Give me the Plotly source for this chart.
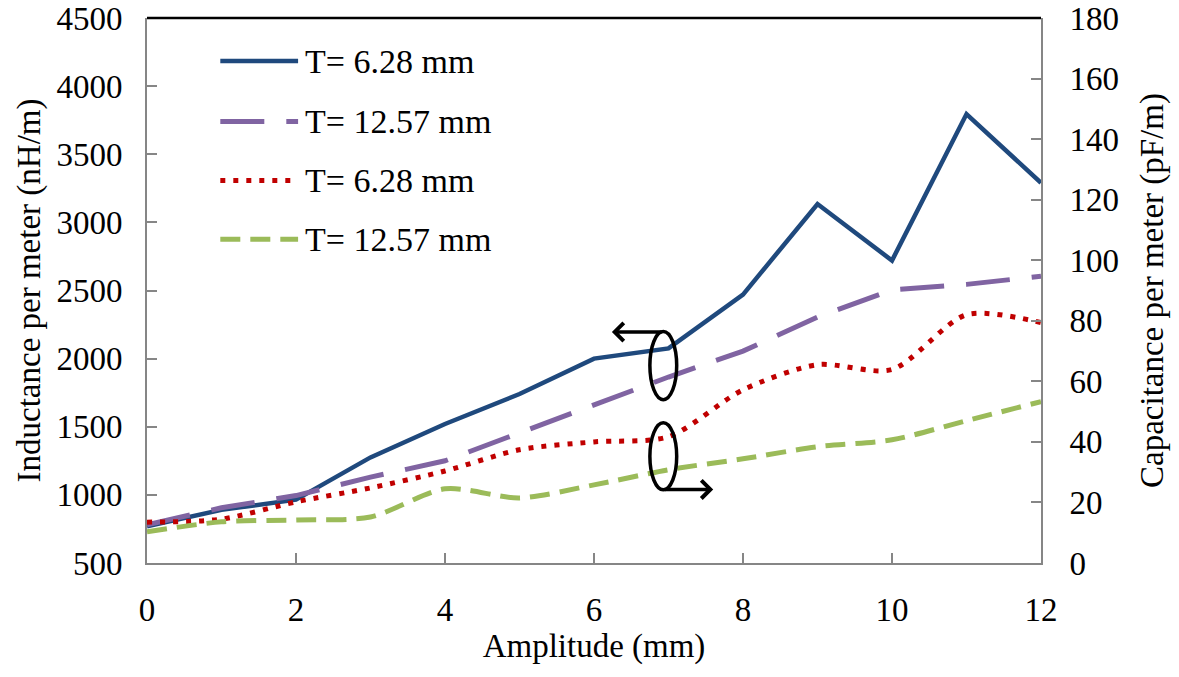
import plotly.graph_objects as go

# Amplitude of the corrugation (mm)
amplitude = [0, 1, 2, 3, 4, 5, 6, 7, 8, 9, 10, 11, 12]

# Inductance per meter (nH/m), left axis
ind_t628 = [770, 890, 965, 1275, 1520, 1740, 2000, 2075, 2470, 3135, 2720, 3795, 3290]
ind_t1257 = [780, 905, 995, 1130, 1250, 1455, 1660, 1865, 2055, 2305, 2505, 2545, 2605]

# Capacitance per meter (pF/m), right axis
cap_t628 = [13.5, 14.5, 20.2, 24.8, 30.4, 37.4, 40.0, 41.7, 57.2, 65.5, 63.9, 82.0, 79.4]
cap_t1257 = [10.3, 13.6, 14.2, 15.2, 24.5, 21.5, 25.8, 30.8, 34.4, 38.4, 40.7, 47.0, 53.3]

labels = ["T= 6.28 mm", "T= 12.57 mm", "T= 6.28 mm", "T= 12.57 mm"]
colors = ["#1F497D", "#8064A2", "#C00000", "#9BBB59"]
dashes = ["solid", "44px,22px", "5px,8px", "20px,10px"]
widths = [4.5, 5, 5, 5]

FONT = "Liberation Serif"
AX = "#868686"

fig = go.Figure()
fig.add_trace(go.Scatter(x=amplitude, y=ind_t628, name=labels[0], mode="lines",
                         line=dict(color=colors[0], width=widths[0], dash=dashes[0])))
fig.add_trace(go.Scatter(x=amplitude, y=ind_t1257, name=labels[1], mode="lines",
                         line=dict(color=colors[1], width=widths[1], dash=dashes[1])))
fig.add_trace(go.Scatter(x=amplitude, y=cap_t628, name=labels[2], mode="lines", yaxis="y2",
                         line=dict(color=colors[2], width=widths[2], dash=dashes[2],
                                   shape="spline", smoothing=0.8)))
fig.add_trace(go.Scatter(x=amplitude, y=cap_t1257, name=labels[3], mode="lines", yaxis="y2",
                         line=dict(color=colors[3], width=widths[3], dash=dashes[3],
                                   shape="spline", smoothing=0.8)))

axis_common = dict(showgrid=False, zeroline=False, showline=True, linecolor=AX, linewidth=2,
                   ticks="inside", ticklen=10, tickwidth=2, tickcolor=AX, automargin=False,
                   tickfont=dict(family=FONT, size=33, color="black"))
title_font = dict(family=FONT, size=33, color="black")

fig.update_layout(
    width=1179, height=677,
    margin=dict(l=147, r=138, t=18, b=114),
    paper_bgcolor="white", plot_bgcolor="white",
    showlegend=False,
    font=dict(family=FONT, color="black"),
    xaxis=dict(range=[0, 12], dtick=2, ticklabelstandoff=16,
               title=dict(text="Amplitude (mm)", font=title_font, standoff=4),
               **axis_common),
    yaxis=dict(range=[500, 4500], dtick=500, ticklabelstandoff=16,
               title=dict(text="Inductance per meter (nH/m)", font=title_font, standoff=6),
               **axis_common),
    yaxis2=dict(range=[0, 180], dtick=20, overlaying="y", side="right", ticklabelstandoff=20,
                title=dict(text="Capacitance per meter (pF/m)", font=title_font, standoff=22),
                **axis_common),
)

# top border of the plot area
fig.add_shape(type="line", xref="paper", yref="paper", x0=0, x1=1, y0=1, y1=1,
              line=dict(color="black", width=2.5))

# ellipses grouping the curves, with arrows toward their axes
fig.add_shape(type="circle", xref="x", yref="y", x0=6.75, x1=7.11, y0=1699, y1=2199,
              line=dict(color="black", width=3.5))
fig.add_shape(type="circle", xref="x", yref="y", x0=6.75, x1=7.11, y0=1037, y1=1529,
              line=dict(color="black", width=3.5))
fig.add_annotation(x=6.24, y=2195, ax=6.93, ay=2195, xref="x", yref="y", axref="x", ayref="y",
                   text="", showarrow=True, arrowhead=4, arrowsize=1, arrowwidth=3.5,
                   arrowcolor="black")
fig.add_annotation(x=7.6, y=1040, ax=6.93, ay=1040, xref="x", yref="y", axref="x", ayref="y",
                   text="", showarrow=True, arrowhead=4, arrowsize=1, arrowwidth=3.5,
                   arrowcolor="black")

# legend drawn in the upper-left corner of the plot area
row_y = [0.921, 0.810, 0.702, 0.594]
for lab, col, dsh, w, yy in zip(labels, colors, dashes, widths, row_y):
    fig.add_shape(type="line", xref="paper", yref="paper", x0=0.082, x1=0.169, y0=yy, y1=yy,
                  line=dict(color=col, width=w, dash=dsh))
    fig.add_annotation(x=0.1745, y=yy, xref="paper", yref="paper", text=lab, showarrow=False,
                       xanchor="left", yanchor="middle",
                       font=dict(family=FONT, size=34, color="black"))

fig.write_html("out.html")
